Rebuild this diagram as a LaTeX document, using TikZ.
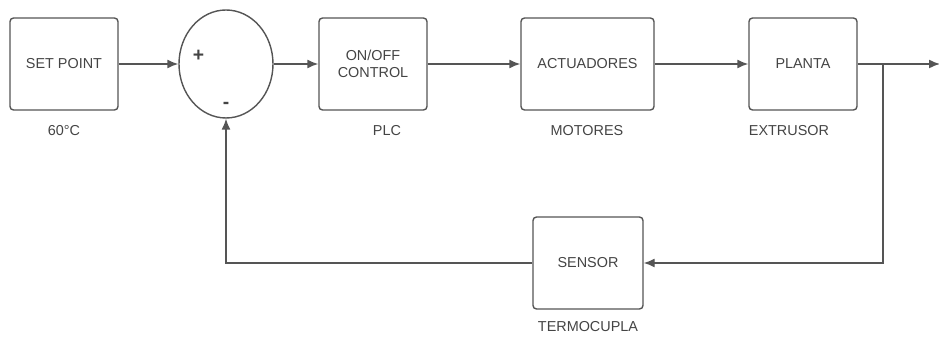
\documentclass[tikz,border=0pt]{standalone}
\usepackage{fontspec}
\setmainfont{Liberation Sans}
\usepackage{tikz}
\usetikzlibrary{arrows.meta,positioning,shapes.geometric,calc}
\definecolor{linegray}{HTML}{555555}
\definecolor{textgray}{HTML}{444444}
\tikzset{
  block/.style={draw=linegray, line width=0.8pt, rounded corners=2pt, minimum width=2.16cm, minimum height=1.84cm, align=center, text=textgray, font=\fontsize{8.2}{9.5}\selectfont},
  sumnode/.style={draw=linegray, line width=0.8pt, ellipse, minimum width=1.88cm, minimum height=2.16cm},
  tag/.style={text=textgray, font=\fontsize{8.2}{9.5}\selectfont},
  sign/.style={text=textgray, font=\fontsize{11}{12}\selectfont\bfseries},
  arrow/.style={-{Latex[length=2.2mm,width=1.8mm]}, line width=0.8pt, draw=linegray}
}
\begin{document}
\begin{tikzpicture}[x=1cm,y=1cm]
  \useasboundingbox (0,0) rectangle (18.78,6.76);
  \node[block] (setpoint) at (1.28,5.48) {SET POINT};
  \node[sumnode] (sum) at (4.52,5.48) {};
  \node[sign] (plus) at (3.97,5.64) {+};
  \node[sign] (minus) at (4.52,4.66) {-};
  \node[block] (control) at (7.46,5.48) {ON/OFF\\CONTROL};
  \node[block,minimum width=2.66cm] (actuadores) at (11.75,5.48) {ACTUADORES};
  \node[block] (planta) at (16.06,5.48) {PLANTA};
  \node[block,minimum width=2.2cm] (sensor) at (11.76,1.5) {SENSOR};
  \node[tag] (lblsp) at (1.28,4.14) {60°C};
  \node[tag] (lblplc) at (7.74,4.14) {PLC};
  \node[tag] (lblmot) at (11.74,4.14) {MOTORES};
  \node[tag] (lblext) at (15.78,4.14) {EXTRUSOR};
  \node[tag] (lblterm) at (11.76,0.22) {TERMOCUPLA};
  \coordinate (branch) at (17.66,5.48);
  \coordinate (out) at (18.8,5.48);
  \draw[arrow] (setpoint.east) -- (sum.west);
  \draw[arrow] (sum.east) -- (control.west);
  \draw[arrow] (control.east) -- (actuadores.west);
  \draw[arrow] (actuadores.east) -- (planta.west);
  \draw[arrow] (planta.east) -- (out);
  \draw[arrow] (branch) |- (sensor.east);
  \draw[arrow] (sensor.west) -| (sum.south);
\end{tikzpicture}
\end{document}
